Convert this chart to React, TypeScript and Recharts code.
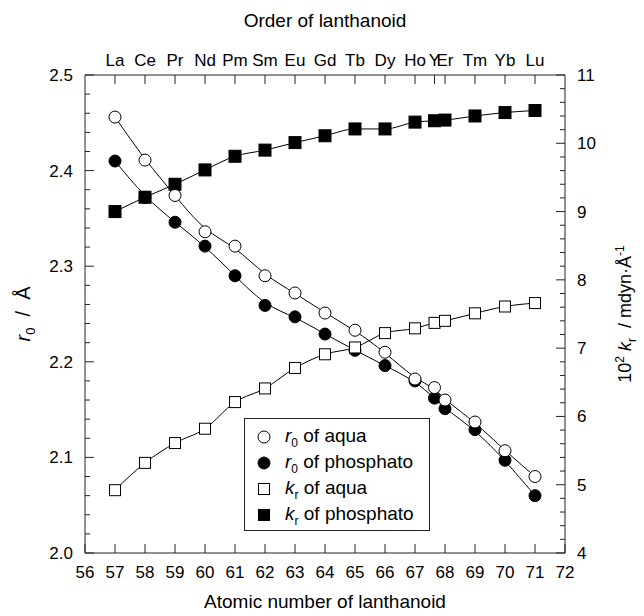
import React from "react";
import { LineChart, Line, XAxis, YAxis, Legend, Label } from "recharts";

// Y sits between Ho and Er on the lanthanoid scale
const atomicNumber = [57, 58, 59, 60, 61, 62, 63, 64, 65, 66, 67, 67.65, 68, 69, 70, 71];
const element = ["La", "Ce", "Pr", "Nd", "Pm", "Sm", "Eu", "Gd", "Tb", "Dy", "Ho", "Y", "Er", "Tm", "Yb", "Lu"];

const r0Aqua = [2.456, 2.411, 2.374, 2.336, 2.321, 2.29, 2.272, 2.251, 2.233, 2.21, 2.182, 2.173, 2.16, 2.137, 2.107, 2.08];
const r0Phosphato = [2.41, 2.372, 2.346, 2.321, 2.29, 2.259, 2.247, 2.229, 2.212, 2.196, 2.18, 2.162, 2.151, 2.129, 2.097, 2.06];
const krAqua = [4.92, 5.32, 5.61, 5.82, 6.21, 6.41, 6.71, 6.91, 7.01, 7.22, 7.29, 7.37, 7.4, 7.51, 7.61, 7.66];
const krPhosphato = [9.0, 9.21, 9.4, 9.61, 9.81, 9.9, 10.01, 10.11, 10.21, 10.21, 10.31, 10.33, 10.34, 10.4, 10.45, 10.48];

const bottomTicks = [56, 57, 58, 59, 60, 61, 62, 63, 64, 65, 66, 67, 68, 69, 70, 71, 72];
const leftMajor = [2.0, 2.1, 2.2, 2.3, 2.4, 2.5];
const rightMajor = [4, 5, 6, 7, 8, 9, 10, 11];

const legendLabels = [
  { sym: "r", sub: "0", rest: " of aqua" },
  { sym: "r", sub: "0", rest: " of phosphato" },
  { sym: "k", sub: "r", rest: " of aqua" },
  { sym: "k", sub: "r", rest: " of phosphato" },
];

const data = atomicNumber.map((z, i) => ({
  z,
  el: element[i],
  r0Aqua: r0Aqua[i],
  r0Phosphato: r0Phosphato[i],
  krAqua: krAqua[i],
  krPhosphato: krPhosphato[i],
}));

// major ticks plus 4 minor ticks in between
const withMinor = (major: number[], n: number) =>
  major
    .flatMap((v, i) =>
      i === 0 ? [v] : Array.from({ length: n }, (_, k) => major[i - 1] + ((v - major[i - 1]) * (k + 1)) / n)
    )
    .map((v) => Math.round(v * 1000) / 1000);

const leftTicks = withMinor(leftMajor, 5);
const rightTicks = withMinor(rightMajor, 5);
const isMajor = (v: number, major: number[]) => major.some((m) => Math.abs(m - v) < 1e-6);

const FONT = "'Liberation Sans', Arial, Helvetica, sans-serif";
const TM = 10;
const MAJOR = 9;
const MINOR = 5;
const INK = "#222";

// x axes: built-in tick lines, drawn inward with a negative tickSize
const BottomTick = (props: any) => {
  const { x, y, payload } = props;
  return (
    <text x={x} y={y + 25} textAnchor="middle" fontSize={17} fontFamily={FONT} fill="#000">
      {payload.value}
    </text>
  );
};

const TopTick = (props: any) => {
  const { x, y, payload, index } = props;
  return (
    <text x={x} y={y - 9} textAnchor="middle" fontSize={17} fontFamily={FONT} fill="#000">
      {element[atomicNumber.indexOf(payload.value)] ?? element[index]}
    </text>
  );
};

const LeftTick = (props: any) => {
  const { x, y, payload } = props;
  const ax = x + TM;
  const major = isMajor(payload.value, leftMajor);
  return (
    <g>
      <path d={`M${ax},${y}H${ax + (major ? MAJOR : MINOR)}`} stroke={INK} strokeWidth={1} fill="none" />
      {major && (
        <text x={ax - 12} y={y + 6} textAnchor="end" fontSize={17} fontFamily={FONT} fill="#000">
          {payload.value.toFixed(1)}
        </text>
      )}
    </g>
  );
};

const RightTick = (props: any) => {
  const { x, y, payload } = props;
  const ax = x - TM;
  const major = isMajor(payload.value, rightMajor);
  return (
    <g>
      <path d={`M${ax},${y}H${ax - (major ? MAJOR : MINOR)}`} stroke={INK} strokeWidth={1} fill="none" />
      {major && (
        <text x={ax + 12} y={y + 6} textAnchor="start" fontSize={17} fontFamily={FONT} fill="#000">
          {payload.value}
        </text>
      )}
    </g>
  );
};

const SquareDot = (props: any) => {
  const { cx, cy, fill, size } = props;
  if (cx == null || cy == null) return <g />;
  return (
    <rect x={cx - size / 2} y={cy - size / 2} width={size} height={size} fill={fill} stroke="#000" strokeWidth={1} />
  );
};

const LegendBox = () => (
  <div
    style={{
      width: 186,
      height: 113,
      boxSizing: "border-box",
      border: `1px solid ${INK}`,
      background: "#fff",
      fontFamily: FONT,
      fontSize: 19,
      color: "#000",
      padding: "5px 0 0 0",
    }}
  >
    {legendLabels.map((l, i) => (
      <div key={i} style={{ display: "flex", alignItems: "center", height: 26 }}>
        <svg width={40} height={26} style={{ flex: "none" }}>
          {i < 2 ? (
            <circle cx={19} cy={13} r={6} fill={i === 0 ? "#fff" : "#000"} stroke="#000" />
          ) : (
            <rect x={13.5} y={7.5} width={11} height={11} fill={i === 2 ? "#fff" : "#000"} stroke="#000" />
          )}
        </svg>
        <span style={{ whiteSpace: "nowrap" }}>
          <i>{l.sym}</i>
          <sub style={{ fontSize: 12 }}>{l.sub}</sub>
          {l.rest}
        </span>
      </div>
    ))}
  </div>
);

export default function App() {
  return (
    <div style={{ width: 644, height: 616, background: "#fff" }}>
      <style>{"body{margin:0;overflow:hidden;}"}</style>
      <LineChart width={644} height={616} data={data} margin={{ top: 0, right: 0, bottom: 0, left: 0 }}>
        <XAxis
          xAxisId="bottom"
          dataKey="z"
          type="number"
          domain={[56, 72]}
          allowDataOverflow
          ticks={bottomTicks}
          interval={0}
          height={63}
          tickLine={{ stroke: INK }}
          tickSize={-MAJOR}
          tickMargin={MAJOR}
          tick={BottomTick}
          axisLine={{ stroke: INK }}
        >
          <Label
            content={(p: any) => (
              <text
                x={p.viewBox.x + p.viewBox.width / 2}
                y={608}
                textAnchor="middle"
                fontSize={19}
                fontFamily={FONT}
                fill="#000"
              >
                Atomic number of lanthanoid
              </text>
            )}
          />
        </XAxis>
        <XAxis
          xAxisId="top"
          orientation="top"
          dataKey="z"
          type="number"
          domain={[56, 72]}
          allowDataOverflow
          ticks={atomicNumber}
          interval={0}
          height={75}
          tickLine={{ stroke: INK }}
          tickSize={-MAJOR}
          tickMargin={MAJOR}
          tick={TopTick}
          axisLine={{ stroke: INK }}
        >
          <Label
            content={(p: any) => (
              <text
                x={p.viewBox.x + p.viewBox.width / 2}
                y={27}
                textAnchor="middle"
                fontSize={19}
                fontFamily={FONT}
                fill="#000"
              >
                Order of lanthanoid
              </text>
            )}
          />
        </XAxis>
        <YAxis
          yAxisId="left"
          type="number"
          domain={[2.0, 2.5]}
          allowDataOverflow
          ticks={leftTicks}
          interval={0}
          width={85}
          tickLine={false}
          tickSize={0}
          tickMargin={TM}
          tick={LeftTick}
          axisLine={{ stroke: INK }}
        >
          <Label
            content={(p: any) => {
              const cx = 30;
              const cy = p.viewBox.y + p.viewBox.height / 2;
              return (
                <text
                  x={cx}
                  y={cy}
                  transform={`rotate(-90 ${cx} ${cy})`}
                  textAnchor="middle"
                  fontSize={20}
                  fontFamily={FONT}
                  fill="#000"
                >
                  <tspan fontStyle="italic">r</tspan>
                  <tspan fontSize={13} dy={5}>0</tspan>
                  <tspan dy={-5}>{"\u00a0\u00a0/\u00a0\u00a0Å"}</tspan>
                </text>
              );
            }}
          />
        </YAxis>
        <YAxis
          yAxisId="right"
          orientation="right"
          type="number"
          domain={[4, 11]}
          allowDataOverflow
          ticks={rightTicks}
          interval={0}
          width={79}
          tickLine={false}
          tickSize={0}
          tickMargin={TM}
          tick={RightTick}
          axisLine={{ stroke: INK }}
        >
          <Label
            content={(p: any) => {
              const cx = 631;
              const cy = p.viewBox.y + p.viewBox.height / 2;
              return (
                <text
                  x={cx}
                  y={cy}
                  transform={`rotate(-90 ${cx} ${cy})`}
                  textAnchor="middle"
                  fontSize={18}
                  fontFamily={FONT}
                  fill="#000"
                >
                  <tspan>10</tspan>
                  <tspan fontSize={12} dy={-7}>2</tspan>
                  <tspan dy={7}>{"\u00a0"}</tspan>
                  <tspan fontStyle="italic">k</tspan>
                  <tspan fontSize={12} dy={5}>r</tspan>
                  <tspan dy={-5}>{"\u00a0\u00a0/ mdyn·Å"}</tspan>
                  <tspan fontSize={12} dy={-7}>-1</tspan>
                </text>
              );
            }}
          />
        </YAxis>

        <Line
          xAxisId="bottom"
          yAxisId="right"
          dataKey="krPhosphato"
          type="monotone"
          stroke="#000"
          strokeWidth={1}
          dot={(p: any) => <SquareDot key={`kp-${p.index}`} {...p} fill="#000" size={12} />}
          activeDot={false}
          isAnimationActive={false}
        />
        <Line
          xAxisId="bottom"
          yAxisId="left"
          dataKey="r0Phosphato"
          type="basis"
          stroke="#000"
          strokeWidth={1}
          dot={{ r: 6, fill: "#000", stroke: "#000", strokeWidth: 1 }}
          activeDot={false}
          isAnimationActive={false}
        />
        <Line
          xAxisId="bottom"
          yAxisId="left"
          dataKey="r0Aqua"
          type="basis"
          stroke="#000"
          strokeWidth={1}
          dot={{ r: 6, fill: "#fff", stroke: "#000", strokeWidth: 1 }}
          activeDot={false}
          isAnimationActive={false}
        />
        <Line
          xAxisId="bottom"
          yAxisId="right"
          dataKey="krAqua"
          type="monotone"
          stroke="#000"
          strokeWidth={1}
          dot={(p: any) => <SquareDot key={`ka-${p.index}`} {...p} fill="#fff" size={11} />}
          activeDot={false}
          isAnimationActive={false}
        />
        <Legend
          layout="vertical"
          align="center"
          verticalAlign="middle"
          content={() => <LegendBox />}
          wrapperStyle={{ left: 244, top: 418, width: 186, height: 113 }}
        />
      </LineChart>
    </div>
  );
}
